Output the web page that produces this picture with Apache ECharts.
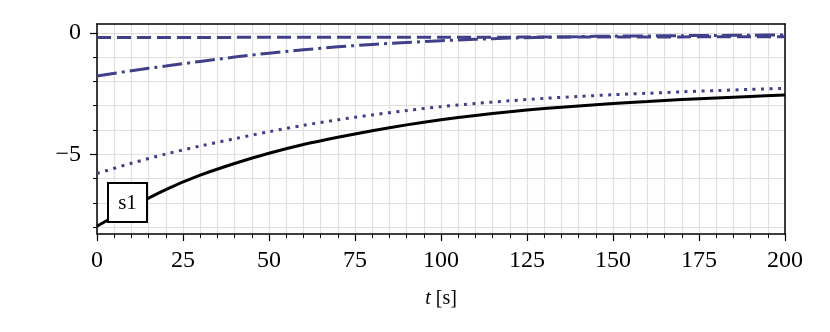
<!DOCTYPE html>
<html>
<head>
<meta charset="utf-8">
<script src="https://cdn.jsdelivr.net/npm/echarts@6/dist/echarts.min.js"></script>
<style>
html, body { margin: 0; padding: 0; background: #fff; }
#chart { width: 830px; height: 332px; }
</style>
</head>
<body>
<div id="chart"></div>
<script>
// time axis [s]
const tValues = [0, 10, 20, 30, 40, 50, 60, 70, 80, 90, 100, 110, 120, 130, 140, 150, 160, 170, 180, 190, 200];
// curves
const solidVals = [-7.96, -7.17, -6.45, -5.86, -5.38, -4.96, -4.6, -4.3, -4.03, -3.79, -3.58, -3.4, -3.25, -3.12, -3.01, -2.91, -2.83, -2.75, -2.68, -2.62, -2.56];
const dottedVals = [-5.79, -5.37, -4.99, -4.66, -4.36, -4.07, -3.81, -3.58, -3.38, -3.2, -3.04, -2.91, -2.8, -2.7, -2.62, -2.55, -2.49, -2.43, -2.38, -2.33, -2.29];
const dashDotVals = [-1.78, -1.56, -1.37, -1.18, -1.0, -0.84, -0.7, -0.58, -0.48, -0.4, -0.33, -0.27, -0.22, -0.19, -0.16, -0.14, -0.13, -0.12, -0.11, -0.1, -0.09];
const dashedVals = [-0.2, -0.2, -0.2, -0.2, -0.19, -0.19, -0.19, -0.19, -0.18, -0.18, -0.18, -0.18, -0.18, -0.17, -0.17, -0.17, -0.17, -0.17, -0.16, -0.16, -0.16];
const xTickStep = 25;
const yMajorStep = 5;
const yMinorStep = 1;

// plot frame (pixels) and visible y range
const plotLeft = 97, plotRight = 45, plotTop = 24, plotBottom = 98;
const yMin = -8.28, yMax = 0.36;
const plotH = 332 - plotTop - plotBottom;
const pxPerUnit = plotH / (yMax - yMin);
// helper grids share the frame but cover whole-number ranges so ticks land on integers
const yPix = v => plotTop + (yMax - v) * pxPerUnit;

const blue = '#40408a';
const gridCol = '#e0e0e0';
const font = 'Liberation Serif';
const minus = v => String(v).replace('-', '\u2212');
const frameLine = { show: true, onZero: false, lineStyle: { color: '#000', width: 1.5 } };

function line(name, data, color, type) {
  return {
    name: name,
    type: 'line',
    xAxisIndex: 1,
    yAxisIndex: 1,
    data: tValues.map((t, i) => [t, data[i]]),
    smooth: 0.3,
    symbol: 'none',
    clip: false,
    lineStyle: { color: color, width: 3, type: type, cap: 'butt' },
    z: 3
  };
}

const chart = echarts.init(document.getElementById('chart'));
chart.setOption({
  animation: false,
  grid: [
    { left: plotLeft, right: plotRight, top: plotTop, bottom: plotBottom },
    { left: plotLeft, right: plotRight, top: yPix(0), bottom: 332 - yPix(-8) },
    { left: plotLeft, right: plotRight, top: yPix(0), bottom: 332 - yPix(-5) }
  ],
  xAxis: [
    {
      gridIndex: 0, type: 'value', min: 0, max: 200, interval: xTickStep, position: 'bottom',
      axisLine: frameLine,
      axisTick: { show: true, inside: false, length: 7, lineStyle: { color: '#000', width: 1.2 } },
      minorTick: { show: true, splitNumber: 5, length: 4, lineStyle: { color: '#000', width: 1 } },
      splitLine: { show: true, lineStyle: { color: gridCol, width: 1.2 } },
      minorSplitLine: { show: true, lineStyle: { color: gridCol, width: 1.2 } },
      axisLabel: { color: '#000', fontFamily: font, fontSize: 24, margin: 15 },
      name: '{i|t} [s]',
      nameLocation: 'middle',
      nameGap: 55,
      nameTextStyle: {
        color: '#000', fontFamily: font, fontSize: 20,
        rich: { i: { fontStyle: 'italic', fontFamily: font, fontSize: 20, color: '#000' } }
      }
    },
    { gridIndex: 1, type: 'value', min: 0, max: 200, show: false },
    { gridIndex: 2, type: 'value', min: 0, max: 200, show: false },
    // top edge of the frame
    {
      gridIndex: 0, type: 'value', min: 0, max: 200, position: 'top',
      axisLine: frameLine, axisTick: { show: false }, axisLabel: { show: false }, splitLine: { show: false }
    }
  ],
  yAxis: [
    {
      gridIndex: 0, type: 'value', min: yMin, max: yMax, position: 'left',
      axisLine: frameLine,
      axisTick: { show: false }, axisLabel: { show: false }, splitLine: { show: false }
    },
    {
      gridIndex: 1, type: 'value', min: -8, max: 0, interval: yMinorStep,
      axisLine: { show: false },
      axisTick: { show: true, inside: false, length: 4, lineStyle: { color: '#000', width: 1 } },
      axisLabel: { show: false },
      splitLine: { show: true, lineStyle: { color: gridCol, width: 1.2 } }
    },
    {
      gridIndex: 2, type: 'value', min: -5, max: 0, interval: yMajorStep,
      axisLine: { show: false },
      axisTick: { show: true, inside: false, length: 7, lineStyle: { color: '#000', width: 1.2 } },
      axisLabel: { color: '#000', fontFamily: font, fontSize: 24, margin: 16, formatter: minus },
      splitLine: { show: false }
    },
    // right edge of the frame
    {
      gridIndex: 0, type: 'value', min: yMin, max: yMax, position: 'right',
      axisLine: frameLine, axisTick: { show: false }, axisLabel: { show: false }, splitLine: { show: false }
    }
  ],
  series: [
    line('s1', solidVals, '#000', 'solid'),
    line('dotted', dottedVals, blue, [3, 5.5]),
    line('dashdot', dashDotVals, blue, [20, 5, 3, 5]),
    line('dashed', dashedVals, blue, [14, 6])
  ],
  graphic: [
    {
      type: 'rect', z: 100, x: 108, y: 183,
      shape: { x: 0, y: 0, width: 39, height: 39 },
      style: { fill: '#fff', stroke: '#000', lineWidth: 2, lineDash: null }
    },
    {
      type: 'text', z: 101, x: 127.5, y: 203,
      style: { text: 's1', fontFamily: font, fontSize: 21, fontStyle: 'normal', fill: '#000', align: 'center', verticalAlign: 'middle' }
    }
  ]
});
</script>
</body>
</html>
